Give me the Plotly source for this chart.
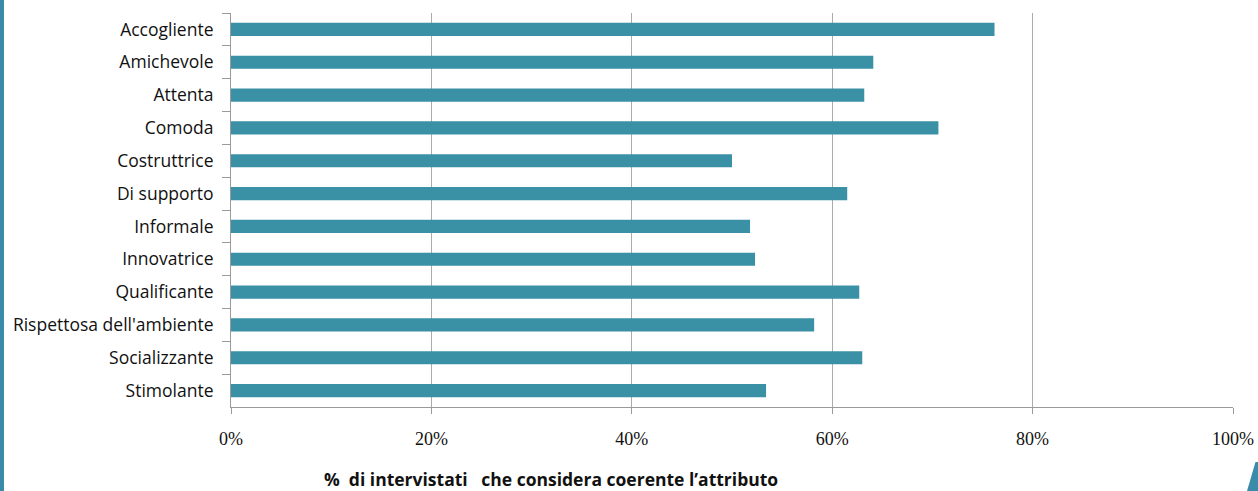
import plotly.graph_objects as go

categories = ["Accogliente", "Amichevole", "Attenta", "Comoda", "Costruttrice",
              "Di supporto", "Informale", "Innovatrice", "Qualificante",
              "Rispettosa dell'ambiente", "Socializzante", "Stimolante"]
values = [76.2, 64.1, 63.2, 70.6, 50.0, 61.5, 51.8, 52.3, 62.7, 58.2, 63.0, 53.4]
tick_vals = [0, 20, 40, 60, 80, 100]
tick_text = ["0%", "20%", "40%", "60%", "80%", "100%"]
x_title = "%  di intervistati   che considera coerente l\u2019attributo"

W, H = 1258, 491
L, R, T, B = 231, 25, 13, 84
pw = W - L - R
ph = H - T - B

def px_x(p):
    return (p - L) / pw

def px_y(p):
    return (H - B - p) / ph

fig = go.Figure()
fig.add_trace(go.Bar(
    y=categories, x=values, orientation="h",
    marker=dict(color="#3A91A6", line=dict(width=0)),
    width=0.4, hoverinfo="x+y",
))

fig.update_layout(
    width=W, height=H,
    margin=dict(l=L, r=R, t=T, b=B, autoexpand=False),
    paper_bgcolor="white", plot_bgcolor="white",
    showlegend=False,
    xaxis=dict(
        range=[0, 100], tickvals=tick_vals, ticktext=tick_text,
        showgrid=True, gridcolor="#ababab", gridwidth=1,
        showline=True, linecolor="#9a9a9a", linewidth=1,
        ticks="outside", ticklen=6, tickcolor="#9a9a9a",
        tickfont=dict(family="Liberation Serif", size=18, color="#111111"),
        ticklabelstandoff=9, zeroline=False, fixedrange=True,
    ),
    yaxis=dict(
        categoryorder="array", categoryarray=categories, autorange="reversed",
        showline=True, linecolor="#9a9a9a", linewidth=1,
        ticks="outside", ticklen=8, tickcolor="#9a9a9a", tickson="boundaries",
        tickfont=dict(family="Open Sans", size=17.5, color="#111111"),
        ticklabelstandoff=13, showgrid=False, fixedrange=True,
    ),
    shapes=[
        dict(type="rect", xref="paper", yref="paper",
             x0=px_x(0), x1=px_x(4), y0=px_y(0), y1=px_y(H),
             fillcolor="#3A8BAA", line=dict(width=0), layer="above"),
        dict(type="path", xref="paper", yref="paper",
             path="M {} {} L {} {} L {} {} L {} {} Z".format(
                 px_x(1255.5), px_y(462), px_x(1258), px_y(462),
                 px_x(1258), px_y(491), px_x(1247), px_y(491)),
             fillcolor="#3A8BAA", line=dict(width=0), layer="above"),
    ],
    annotations=[
        dict(text=x_title, xref="paper", yref="paper",
             x=px_x(322), y=px_y(479), xanchor="left", yanchor="middle",
             showarrow=False,
             font=dict(family="Open Sans", size=17.5, color="#111111", weight="bold")),
    ],
)

fig.write_html("out.html")
